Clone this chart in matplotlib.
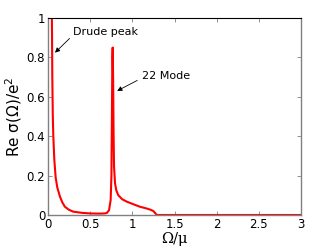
import numpy as np
import matplotlib.pyplot as plt

# curve (Omega/mu, Re sigma / e^2)
omega = [0.045, 0.048, 0.051, 0.057, 0.063, 0.075, 0.091, 0.11, 0.142, 0.17, 0.20, 0.25,
         0.30, 0.40, 0.50, 0.60, 0.676, 0.70, 0.724, 0.743, 0.752, 0.758, 0.763, 0.767,
         0.772, 0.778, 0.783, 0.795, 0.81, 0.834, 0.88, 0.933, 1.01, 1.09, 1.17, 1.22,
         1.25, 1.27, 1.29, 1.4, 2.0, 3.0]
sigma = [1.05, 0.9, 0.70, 0.50, 0.40, 0.28, 0.19, 0.14, 0.093, 0.064, 0.042, 0.026,
         0.017, 0.011, 0.008, 0.007, 0.008, 0.011, 0.025, 0.076, 0.2, 0.5, 0.8, 0.85,
         0.7, 0.4, 0.245, 0.16, 0.125, 0.10, 0.08, 0.068, 0.055, 0.042, 0.033, 0.026,
         0.02, 0.01, 0.0, 0.0, 0.0, 0.0]

fig = plt.figure(figsize=(3.32, 2.5), dpi=100)
ax = fig.add_axes([48/332, 35/250, 253/332, 197/250])
ax.plot(omega, sigma, color="red", linewidth=1.5, clip_on=True)
ax.set_xlim(0, 3)
ax.set_ylim(0, 1)
ax.set_xticks([0, 0.5, 1, 1.5, 2, 2.5, 3])
ax.set_xticklabels(["0", "0.5", "1", "1.5", "2", "2.5", "3"])
ax.set_yticks([0, 0.2, 0.4, 0.6, 0.8, 1])
ax.set_yticklabels(["0", "0.2", "0.4", "0.6", "0.8", "1"])
ax.tick_params(direction="in", labelsize=8.5, length=3, width=0.6, pad=2,
               top=True, right=True, color="gray")
for side in ["left", "bottom", "right"]:
    ax.spines[side].set_color("gray")
    ax.spines[side].set_linewidth(1.0)
ax.spines["top"].set_linewidth(0.8)

ax.set_xlabel("Ω/μ", fontsize=10.5, family="DejaVu Serif", labelpad=1)
ax.set_ylabel("Re σ(Ω)/e$^2$", fontsize=11, labelpad=2)

ax.annotate("Drude peak", xy=(0.083, 0.824), xytext=(0.30, 0.93), fontsize=8,
            ha="left", va="center",
            arrowprops=dict(arrowstyle="-|>", color="black", lw=0.6, mutation_scale=7,
                            shrinkA=1, shrinkB=0, relpos=(0, 0.2)))
ax.annotate("22 Mode", xy=(0.82, 0.63), xytext=(1.12, 0.707), fontsize=8,
            ha="left", va="center",
            arrowprops=dict(arrowstyle="-|>", color="black", lw=0.6, mutation_scale=7,
                            shrinkA=2, shrinkB=0, relpos=(0, 0.3)))

fig.savefig("out.png", dpi=100)
